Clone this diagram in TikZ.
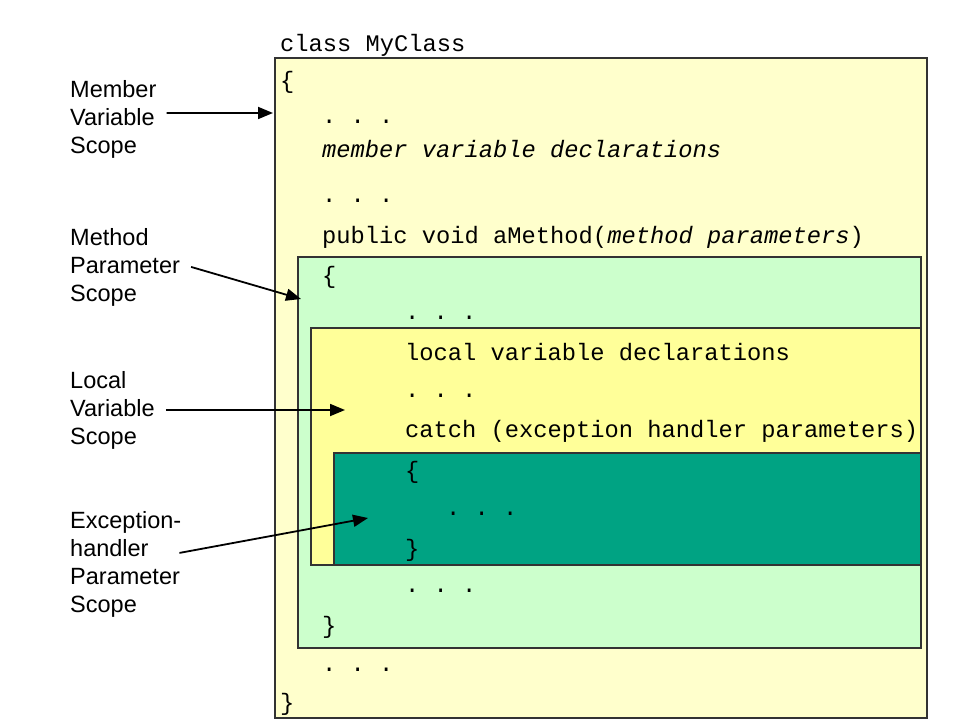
\documentclass[tikz,border=0pt]{standalone}
\usepackage{fontspec}
\setsansfont{Liberation Sans}
\setmonofont{Liberation Mono}
\usetikzlibrary{arrows.meta}
\definecolor{classbg}{HTML}{FFFFCC}
\definecolor{methodbg}{HTML}{CCFFCC}
\definecolor{localbg}{HTML}{FFFF99}
\definecolor{handlerbg}{HTML}{00A383}

\begin{document}
\begin{tikzpicture}[x=1pt,y=-1pt]
\tikzset{code/.style={anchor=base west,inner sep=0pt,font=\fontsize{23.75}{28}\ttfamily}}
\tikzset{scopelabel/.style={anchor=base west,align=left,inner sep=0pt,font=\fontsize{23.5}{28}\sffamily}}
\tikzset{scopebox/.style={draw=black!80,line width=1.5pt}}
\tikzset{pointer/.style={-{Triangle[length=15pt,width=12pt]},line width=1.8pt}}

\useasboundingbox (0,0) rectangle (960,720);

% nested scopes
\draw[scopebox,fill=classbg] (275,58) rectangle (927,718);
\draw[scopebox,fill=methodbg] (298,257) rectangle (921,648);
\draw[scopebox,fill=localbg] (311,328) rectangle (921,565);
\draw[scopebox,fill=handlerbg] (334,453) rectangle (921,565);

% code
\node[code] (classname) at (280,51) {class MyClass};
\node[code] (classopen) at (280,88) {\{};
\node[code] (memberdecl) at (322,157) {\textit{member variable declarations}};
\node[code] (methodsig) at (322,243) {public void aMethod(\textit{method parameters})};
\node[code] (methodopen) at (322,283) {\{};
\node[code] (localdecl) at (405,360) {local variable declarations};
\node[code] (catchsig) at (405,437) {catch (exception handler parameters)};
\node[code] (catchopen) at (405,478) {\{};
\node[code] (catchclose) at (405,556) {\}};
\node[code] (methodclose) at (322,633) {\}};
\node[code] (classclose) at (280,710) {\}};
\foreach \name/\x/\y in {mdotsa/322/123,mdotsb/322/202,pdotsa/405/319,pdotsb/405/397,
  hdots/446/515,pdotsc/405/592,mdotsc/322/671}
  \node[code] (\name) at (\x,\y) {. . .};

% labels (base is the last line)
\node[scopelabel] (membervar) at (70,153) {Member\\Variable\\Scope};
\node[scopelabel] (methodpar) at (70,301) {Method\\Parameter\\Scope};
\node[scopelabel] (localvar) at (70,444) {Local\\Variable\\Scope};
\node[scopelabel] (handlerpar) at (70,612) {Exception-\\handler\\Parameter\\Scope};

\coordinate (memberend) at (273,113);
\coordinate (methodend) at (301,299);
\coordinate (localend) at (345,410);
\coordinate (handlerend) at (368,518);

\draw[pointer] ([xshift=10pt,yshift=6pt]membervar.east) -- (memberend);
\draw[pointer] ([xshift=11pt]methodpar.east) -- (methodend);
\draw[pointer] ([xshift=11pt]localvar.east |- localend) -- (localend);
\draw[pointer] ([xshift=-2pt,yshift=11pt]handlerpar.east) -- (handlerend);

\end{tikzpicture}
\end{document}
